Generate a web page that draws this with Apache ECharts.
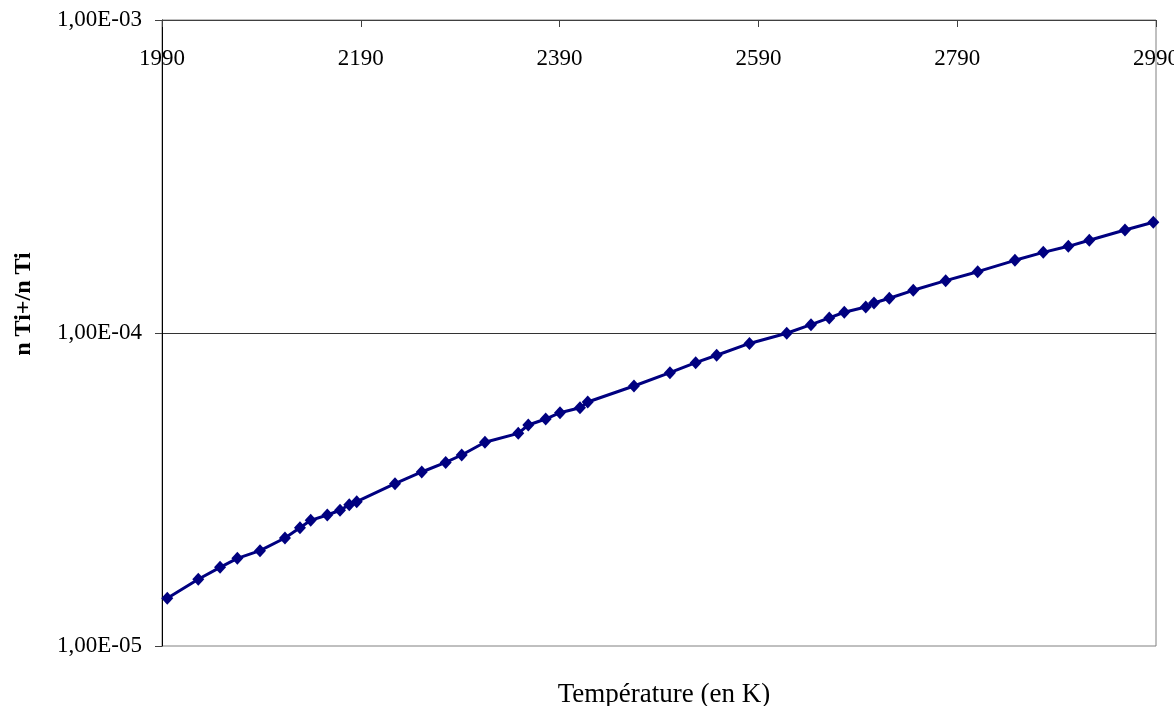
<!DOCTYPE html>
<html>
<head>
<meta charset="utf-8">
<script src="https://cdn.jsdelivr.net/npm/echarts@6/dist/echarts.min.js"></script>
<style>html,body{margin:0;padding:0;background:#fff;}#c{width:1174px;height:706px;}</style>
</head>
<body>
<div id="c"></div>
<script>
const temperatures = [1995.3, 2026.5, 2048.4, 2065.8, 2088.6, 2113.7, 2128.8, 2139.6, 2156.3, 2169.1, 2178.4, 2185.9, 2224.4, 2251.3, 2275.4, 2291.5, 2314.9, 2348.4, 2358.5, 2376, 2390.4, 2410.5, 2418.3, 2464.8, 2501, 2526.9, 2548, 2581, 2618.5, 2642.9, 2661.3, 2676.4, 2698, 2706.3, 2721.7, 2745.8, 2778.4, 2810.6, 2848.1, 2876.6, 2901.8, 2922.9, 2958.8, 2987.3];
const ratios = [1.42e-5, 1.634e-5, 1.784e-5, 1.906e-5, 2.016e-5, 2.213e-5, 2.388e-5, 2.521e-5, 2.621e-5, 2.714e-5, 2.828e-5, 2.891e-5, 3.30e-5, 3.597e-5, 3.858e-5, 4.076e-5, 4.475e-5, 4.78e-5, 5.082e-5, 5.311e-5, 5.564e-5, 5.772e-5, 6.02e-5, 6.77e-5, 7.47e-5, 8.04e-5, 8.49e-5, 9.26e-5, 9.98e-5, 1.063e-4, 1.117e-4, 1.165e-4, 1.211e-4, 1.247e-4, 1.291e-4, 1.369e-4, 1.47e-4, 1.570e-4, 1.707e-4, 1.810e-4, 1.892e-4, 1.978e-4, 2.133e-4, 2.258e-4];
const xTicks = {min: 1990, max: 2990, interval: 200};
const yTicks = {min: 1e-5, max: 1e-3};
const xTitle = 'Température (en K)';
const yTitle = 'n Ti+/n Ti';

const font = "'Liberation Serif', 'Times New Roman', serif";
const chart = echarts.init(document.getElementById('c'));
chart.setOption({
  animation: false,
  backgroundColor: '#fff',
  title: {
    text: xTitle, left: 659, top: 676, textAlign: 'center',
    textStyle: {fontFamily: font, fontSize: 27, fontWeight: 'normal', color: '#000'}
  },
  graphic: [{
    type: 'text', x: 24, y: 304, rotation: Math.PI / 2,
    style: {text: yTitle, align: 'center', verticalAlign: 'middle', fontFamily: font, fontSize: 24, fontWeight: 'bold', fill: '#000'}
  }],
  grid: {left: 162, right: 18, top: 20, bottom: 60, show: true, borderColor: '#808080', borderWidth: 1, containLabel: false, outerBoundsMode: 'none'},
  xAxis: {
    type: 'value', position: 'top', min: xTicks.min, max: xTicks.max, interval: xTicks.interval,
    axisLine: {show: true, lineStyle: {color: '#404040', width: 1}},
    axisTick: {show: true, inside: true, length: 7, lineStyle: {color: '#404040'}},
    axisLabel: {inside: true, margin: 27, fontFamily: font, fontSize: 23, color: '#000', formatter: v => String(v)},
    splitLine: {show: false}
  },
  yAxis: {
    type: 'log', logBase: 10, min: yTicks.min, max: yTicks.max,
    axisLine: {show: true, lineStyle: {color: '#000', width: 1}},
    axisTick: {show: true, inside: false, length: 7, lineStyle: {color: '#404040'}},
    axisLabel: {
      margin: 20, fontFamily: font, fontSize: 23, color: '#000',
      formatter: function (v) {
        const e = Math.round(Math.log10(v));
        const s = Math.abs(e) < 10 ? '0' + Math.abs(e) : '' + Math.abs(e);
        return '1,00E' + (e < 0 ? '-' : '+') + s;
      }
    },
    splitLine: {show: true, showMinLine: false, showMaxLine: false, lineStyle: {color: '#333', width: 1}}
  },
  series: [{
    type: 'line',
    data: temperatures.map((t, i) => [t, ratios[i]]),
    symbol: 'diamond', symbolSize: [12, 13],
    lineStyle: {color: '#000080', width: 3},
    itemStyle: {color: '#000080'}
  }]
});
</script>
</body>
</html>
